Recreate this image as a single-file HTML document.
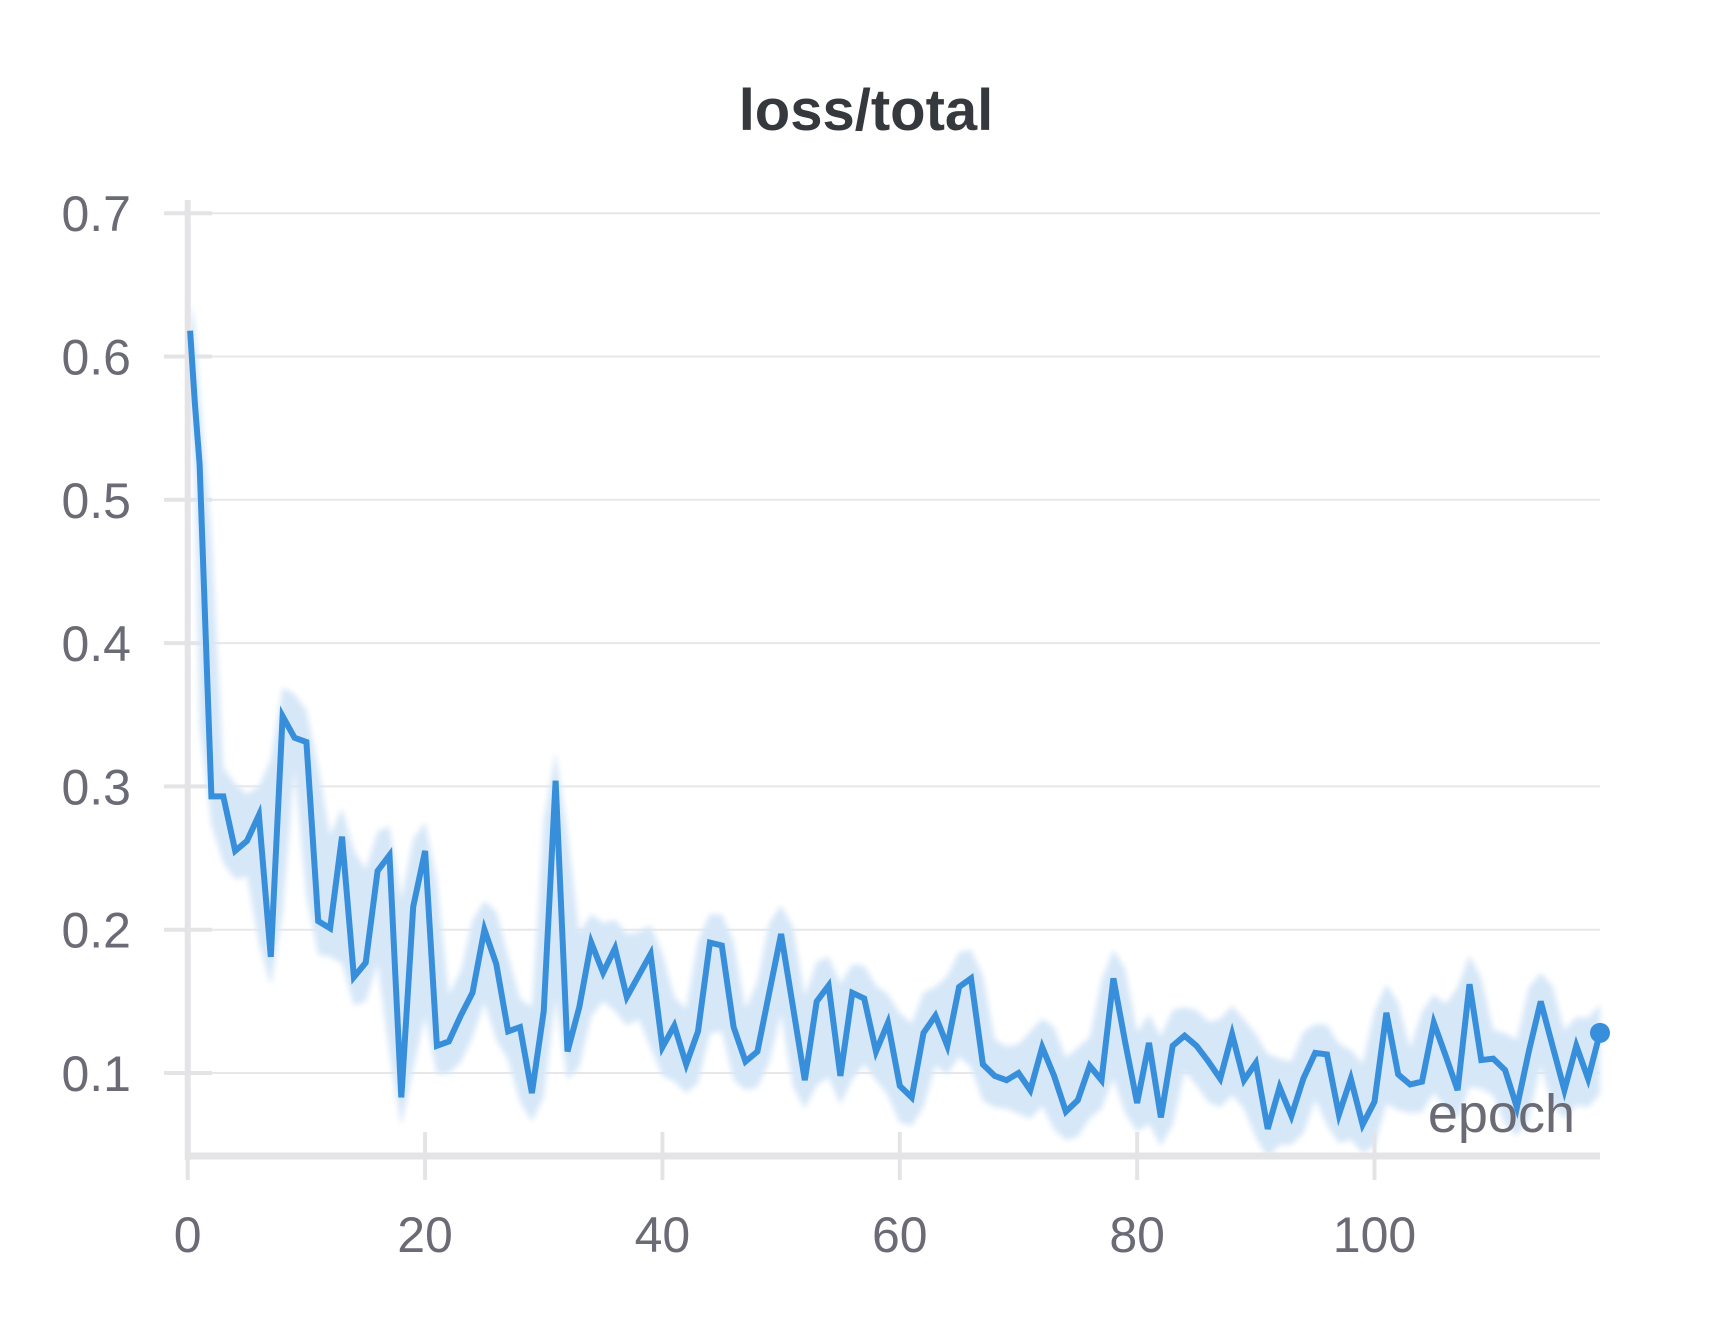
<!DOCTYPE html>
<html><head><meta charset="utf-8">
<style>
html,body{margin:0;padding:0;background:#fff;}
svg{display:block;}
text{font-family:"Liberation Sans",sans-serif;}
</style></head>
<body>
<svg id="chart" width="1728" height="1328" viewBox="0 0 1728 1328" xmlns="http://www.w3.org/2000/svg">
<defs><filter id="blur" x="-5%" y="-5%" width="110%" height="110%"><feGaussianBlur stdDeviation="3"/></filter></defs>
<text x="866" y="130" text-anchor="middle" font-size="58" font-weight="bold" fill="#35383c">loss/total</text>
<g id="grid"></g>
<g id="band"></g>
<g id="axes"></g>
<g id="series"></g>
<text x="1575" y="1132" text-anchor="end" font-size="54" fill="#6b6b76">epoch</text>
</svg>
<script>
const yTicks = [0.1,0.2,0.3,0.4,0.5,0.6,0.7];
const yTickLabels = ["0.1","0.2","0.3","0.4","0.5","0.6","0.7"];
const xTicks = [0,20,40,60,80,100];
const xTickLabels = ["0","20","40","60","80","100"];
const epochs = [0.2,0.6,1.0,2,3,4,5,6,7,8,9,10,11,12,13,14,15,16,17,18,19,20,21,22,23,24,25,26,27,28,29,30,31,32,33,34,35,36,37,38,39,40,41,42,43,44,45,46,47,48,49,50,51,52,53,54,55,56,57,58,59,60,61,62,63,64,65,66,67,68,69,70,71,72,73,74,75,76,77,78,79,80,81,82,83,84,85,86,87,88,89,90,91,92,93,94,95,96,97,98,99,100,101,102,103,104,105,106,107,108,109,110,111,112,113,114,115,116,117,118,119];
const lossValues = [0.618,0.568,0.525,0.293,0.293,0.255,0.262,0.280,0.181,0.349,
0.334,0.331,0.206,0.201,0.265,0.167,0.177,0.241,0.252,0.083,
0.216,0.255,0.119,0.122,0.140,0.156,0.200,0.176,0.129,0.132,
0.086,0.143,0.304,0.115,0.146,0.191,0.170,0.187,0.153,0.168,
0.183,0.118,0.133,0.106,0.129,0.191,0.189,0.132,0.108,0.115,
0.156,0.197,0.146,0.095,0.150,0.161,0.098,0.156,0.152,0.115,
0.135,0.091,0.083,0.128,0.140,0.119,0.160,0.166,0.106,0.098,
0.095,0.100,0.088,0.118,0.098,0.073,0.081,0.105,0.095,0.166,
0.121,0.079,0.121,0.069,0.119,0.126,0.119,0.108,0.096,0.127,
0.095,0.107,0.061,0.090,0.070,0.096,0.114,0.113,0.071,0.096,
0.064,0.080,0.142,0.099,0.092,0.094,0.135,0.112,0.088,0.162,
0.109,0.110,0.102,0.076,0.115,0.150,0.119,0.088,0.119,0.096,
0.128];

const NS="http://www.w3.org/2000/svg";
const X0=187.7, X1=1600, E1=119;
const xs = e => X0 + e*(X1-X0)/E1;
const ys = v => 1073 - (v-0.1)*1433;
function mk(tag, parent){const el=document.createElementNS(NS,tag);parent.appendChild(el);return el;}

const grid=document.getElementById('grid');
const axes=document.getElementById('axes');
yTicks.forEach((t,i)=>{
  const l=mk('line',grid);
  
  
  l.setAttribute('x1',212);l.setAttribute('x2',1600);l.setAttribute('y1',ys(t));l.setAttribute('y2',ys(t));
  l.setAttribute('stroke','#e7e7ea');l.setAttribute('stroke-width','2');
  const s=mk('line',grid);
  
  
  s.setAttribute('x1',164);s.setAttribute('x2',212);s.setAttribute('y1',ys(t));s.setAttribute('y2',ys(t));
  s.setAttribute('stroke','#e4e4e7');s.setAttribute('stroke-width','4');
  const tx=mk('text',grid);
  
  
  tx.setAttribute('x',131);tx.setAttribute('y',ys(t)+18);tx.setAttribute('text-anchor','end');
  tx.setAttribute('font-size','50');tx.setAttribute('fill','#6b6b76');
  tx.textContent=yTickLabels[i];
});
const ya=mk('line',axes);


ya.setAttribute('x1',X0);ya.setAttribute('x2',X0);ya.setAttribute('y1',200);ya.setAttribute('y2',1160);
ya.setAttribute('stroke','#e4e4e7');ya.setAttribute('stroke-width','6');
const xa=mk('line',axes);


xa.setAttribute('x1',185);xa.setAttribute('x2',1600);xa.setAttribute('y1',1156);xa.setAttribute('y2',1156);
xa.setAttribute('stroke','#e4e4e7');xa.setAttribute('stroke-width','7');
xTicks.forEach((t,i)=>{
  const l=mk('line',axes);
  
  
  l.setAttribute('x1',xs(t));l.setAttribute('x2',xs(t));l.setAttribute('y1',1132);l.setAttribute('y2',1180);
  l.setAttribute('stroke','#e4e4e7');l.setAttribute('stroke-width','4');
  const tx=mk('text',axes);
  
  
  tx.setAttribute('x',xs(t));tx.setAttribute('y',1252);tx.setAttribute('text-anchor','middle');
  tx.setAttribute('font-size','50');tx.setAttribute('fill','#6b6b76');
  tx.textContent=xTickLabels[i];
});

// min/max envelope band from neighbouring points
const hi=[],lo=[];
for(let i=0;i<lossValues.length;i++){
  const a=lossValues[Math.max(0,i-1)],b=lossValues[i],c=lossValues[Math.min(lossValues.length-1,i+1)];
  hi.push(Math.max(a,b,c)*0.7+b*0.3+0.02);
  lo.push(Math.min(a,b,c)*0.7+b*0.3-0.02);
}
let bd='';
epochs.forEach((e,i)=>{bd+=(i?'L':'M')+xs(e).toFixed(1)+','+ys(hi[i]).toFixed(1);});
for(let i=epochs.length-1;i>=0;i--){bd+='L'+xs(epochs[i]).toFixed(1)+','+ys(lo[i]).toFixed(1);}
const band=mk('path',document.getElementById('band'));


band.setAttribute('d',bd+'Z');band.setAttribute('fill','#d6e7f8');band.setAttribute('filter','url(#blur)');

let d='';
epochs.forEach((e,i)=>{d+=(i?'L':'M')+xs(e).toFixed(1)+','+ys(lossValues[i]).toFixed(1);});
const line=mk('path',document.getElementById('series'));


line.setAttribute('d',d);line.setAttribute('fill','none');line.setAttribute('stroke','#378fdb');
line.setAttribute('stroke-width','6');line.setAttribute('stroke-linejoin','miter');
const n=epochs.length-1;
const dot=mk('circle',document.getElementById('series'));


dot.setAttribute('cx',xs(epochs[n]));dot.setAttribute('cy',ys(lossValues[n]));dot.setAttribute('r','10');dot.setAttribute('fill','#378fdb');
</script>
</body></html>
